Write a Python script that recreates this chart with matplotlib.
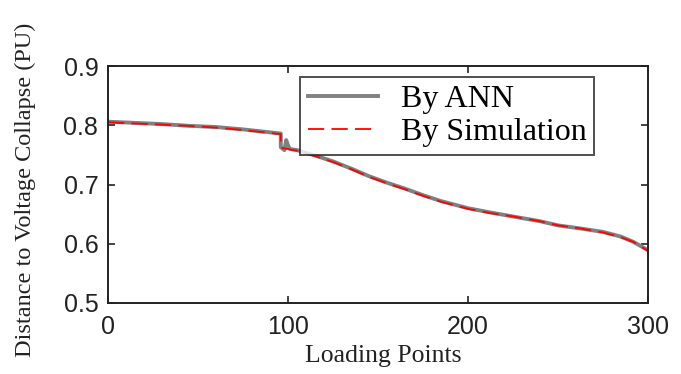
import matplotlib
matplotlib.use("Agg")
import matplotlib.pyplot as plt

# data
sim_x = [0, 15, 30, 45, 60, 75, 90, 96, 96, 105, 115, 125, 135, 145, 155,
         165, 175, 185, 200, 212, 225, 240, 250, 262, 275, 285, 292, 300]
sim_y = [0.805, 0.803, 0.801, 0.799, 0.796, 0.792, 0.787, 0.785, 0.762,
         0.757, 0.748, 0.738, 0.726, 0.713, 0.702, 0.692, 0.681, 0.671,
         0.659, 0.652, 0.646, 0.638, 0.631, 0.626, 0.619, 0.611, 0.603, 0.588]

ann_x = [0, 15, 30, 45, 60, 75, 90, 96, 96, 98, 99, 100, 101, 105, 115,
         125, 135, 145, 155, 165, 175, 185, 200, 212, 225, 240, 250, 262,
         275, 285, 292, 300]
ann_y = [0.806, 0.804, 0.802, 0.799, 0.797, 0.793, 0.788, 0.786, 0.763,
         0.758, 0.775, 0.766, 0.760, 0.758, 0.749, 0.739, 0.727, 0.714,
         0.703, 0.693, 0.682, 0.672, 0.660, 0.653, 0.646, 0.638, 0.631,
         0.626, 0.620, 0.612, 0.603, 0.589]

xticks = [0, 100, 200, 300]
yticks = [0.5, 0.6, 0.7, 0.8, 0.9]

plt.rcParams['font.family'] = ['Liberation Serif', 'DejaVu Serif']

W, H = 681, 374
fig = plt.figure(figsize=(W / 100, H / 100), dpi=100)
ax = fig.add_axes([108 / W, 1 - 303 / H, 540 / W, 237 / H])

ax.plot(ann_x, ann_y, color='#808080', lw=2.8, label='By ANN')
ax.plot(sim_x, sim_y, color='red', lw=1.3, dashes=(9, 4), label='By Simulation')

ax.set_xlim(0, 300)
ax.set_ylim(0.5, 0.9)
ax.set_xticks(xticks)
ax.set_yticks(yticks)
ax.set_yticklabels(['%.1f' % v for v in yticks])
ax.tick_params(direction='in', top=True, right=True, length=5, width=1.2,
               labelsize=18, color='#222222')
ax.tick_params(axis='y', pad=7)
ax.tick_params(axis='x', pad=9)
for lab in ax.get_xticklabels() + ax.get_yticklabels():
    lab.set_family('Liberation Sans')
    lab.set_color('#222222')
for s in ax.spines.values():
    s.set_linewidth(1.4)
    s.set_color('#222222')

ax.set_xlabel('Loading Points', fontsize=18.5, color='#222222')
ax.set_ylabel('Distance to Voltage Collapse (PU)', fontsize=17.5,
              color='#222222')
ax.xaxis.set_label_coords(383 / W, 1 - 345 / H, transform=fig.transFigure)
ax.yaxis.set_label_coords(36 / W, 1 - 190 / H, transform=fig.transFigure)

leg = ax.legend(loc='upper left', bbox_to_anchor=(300 / W, 1 - 77 / H),
                bbox_transform=fig.transFigure, fontsize=23,
                frameon=True, fancybox=False, edgecolor='#222222',
                handlelength=2.2, handletextpad=0.7, borderpad=0.25,
                labelspacing=0.1, borderaxespad=0)
leg.get_frame().set_linewidth(1.4)

fig.savefig('out.png', dpi=100)
